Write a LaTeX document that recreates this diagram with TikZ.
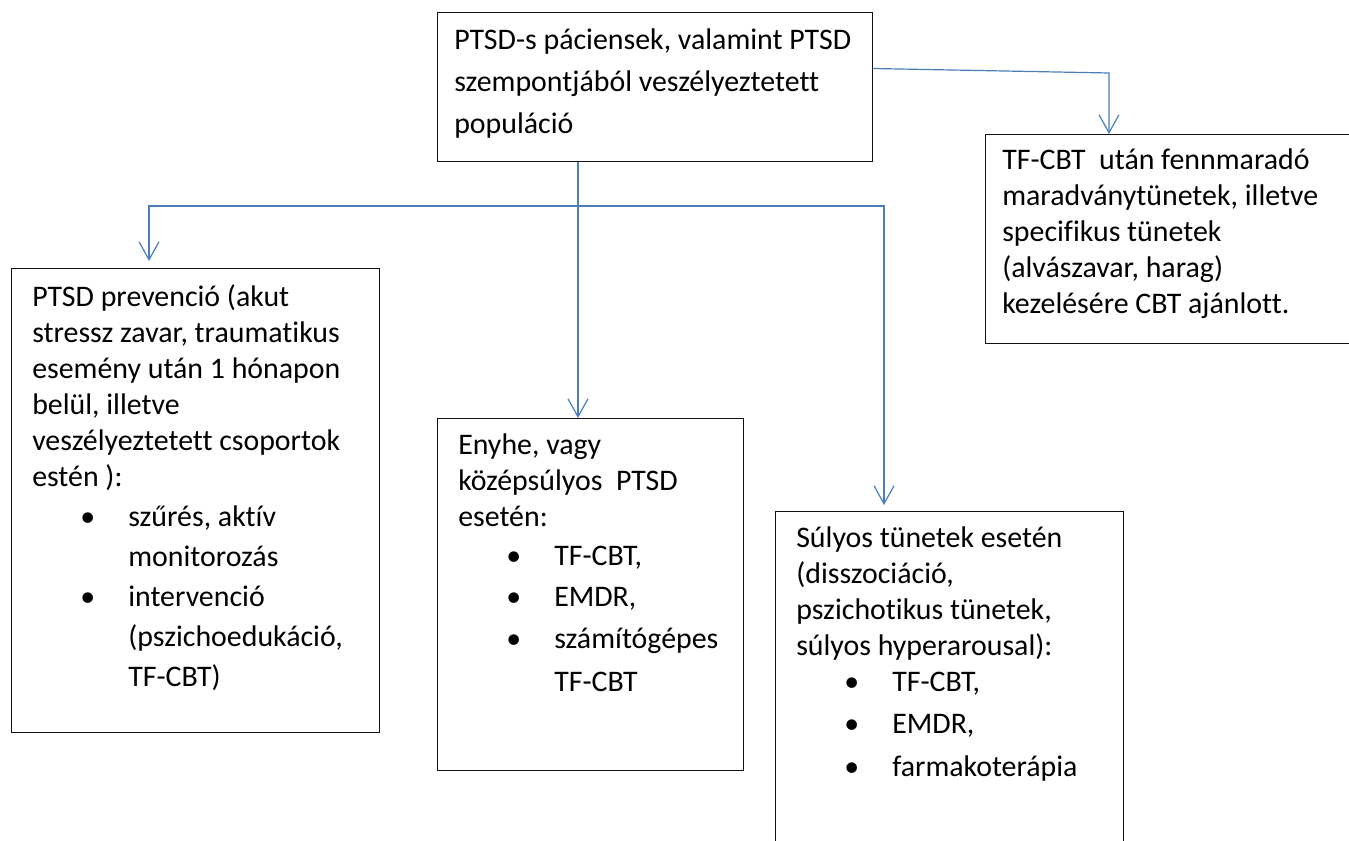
\documentclass[tikz,border=0pt]{standalone}
\usepackage{fontspec}
\setmainfont{Carlito}[Ligatures=NoCommon]
\usepackage{tikz}
\usetikzlibrary{positioning, arrows.meta, calc}
\definecolor{linkBlue}{HTML}{4A7EBB}
\definecolor{boxBlack}{HTML}{111111}

% bullet line and continuation line of a list
\newcommand{\bitem}{\hspace*{36pt}\makebox[36pt][l]{\textbullet}}
\newcommand{\bcont}{\hspace*{72pt}}
\newcommand{\boxtext}[2][27pt]{\parbox[t]{330pt}{\fontsize{22.4pt}{#1}\selectfont\raggedright #2}}

\begin{document}
\begin{tikzpicture}[
  x=0.75pt, y=-0.75pt,
  panel/.style={
    rectangle, draw=boxBlack, line width=0.8pt,
    anchor=north west, inner sep=0pt
  },
  body/.style={anchor=base west, inner sep=0pt, text=black},
  link/.style={
    draw=linkBlue, line width=0.9pt,
    -{Straight Barb[length=13.5pt, width=15pt]}
  },
  twolink/.style={
    draw=linkBlue, line width=0.9pt,
    {Straight Barb[length=13.5pt, width=15pt]}-{Straight Barb[length=13.5pt, width=15pt]}
  },
]
\useasboundingbox (0,0) rectangle (1349,841);
\clip (0,0) rectangle (1349,841);

% === TOP ===
\node[panel, minimum width=326.25pt, minimum height=111.75pt] (pop) at (437,12) {};
\node[body] (pop-t) at (454,50) {\boxtext[31.5pt]{%
  PTSD-s páciensek, valamint PTSD\\
  szempontjából veszélyeztetett\\
  populáció}};

% === RESIDUAL SYMPTOMS (right, runs past the page) ===
\node[panel, minimum width=420pt, minimum height=156.75pt] (resid) at (985,134) {};
\node[body] (resid-t) at (1002,170) {\boxtext{%
  TF-CBT\ \ után fennmaradó\\
  maradványtünetek, illetve\\
  specifikus tünetek\\
  (alvászavar, harag)\\
  kezelésére CBT ajánlott.}};

% === PREVENTION ===
\node[panel, minimum width=276pt, minimum height=348pt] (prev) at (11,268) {};
\node[body] (prev-t) at (32,307) {\boxtext{%
  PTSD prevenció (akut\\
  stressz zavar, traumatikus\\
  esemény után 1 hónapon\\
  belül, illetve\\
  veszélyeztetett csoportok\\
  estén ):\\[3pt]
  \bitem szűrés, aktív\\[3pt]
  \bcont monitorozás\\[3pt]
  \bitem intervenció\\[3pt]
  \bcont (pszichoedukáció,\\[3pt]
  \bcont TF-CBT)}};

% === MILD / MODERATE ===
\node[panel, minimum width=229.5pt, minimum height=264pt] (mild) at (437,418) {};
\node[body] (mild-t) at (458,455) {\boxtext{%
  Enyhe, vagy\\
  középsúlyos\ \ PTSD\\
  esetén:\\[1.5pt]
  \bitem TF-CBT,\\[4.5pt]
  \bitem EMDR,\\[4.5pt]
  \bitem számítógépes\\[4.5pt]
  \bcont TF-CBT}};

% === SEVERE (runs past the page) ===
\node[panel, minimum width=261pt, minimum height=300pt] (severe) at (775,511) {};
\node[body] (severe-t) at (796,547) {\boxtext{%
  Súlyos tünetek esetén\\
  (disszociáció,\\
  pszichotikus tünetek,\\
  súlyos hyperarousal):\\
  \bitem TF-CBT,\\[5pt]
  \bitem EMDR,\\[5pt]
  \bitem farmakoterápia}};

% connectors
\coordinate (rbend) at (1109,73);
\coordinate (lsplit) at (149,206);
\coordinate (rsplit) at (884,206);
\coordinate (mdrop) at ([xshift=-9.4pt]mild.north);

\draw[link] ([yshift=13.9pt]pop.east) -- (rbend) -- (rbend |- resid.north);
\draw[link] (mdrop |- pop.south) -- (mdrop);
\draw[twolink, shorten <=5.25pt, shorten >=4.5pt]
  (lsplit |- prev.north) -- (lsplit) -- (rsplit) -- (rsplit |- severe.north);

\end{tikzpicture}
\end{document}
